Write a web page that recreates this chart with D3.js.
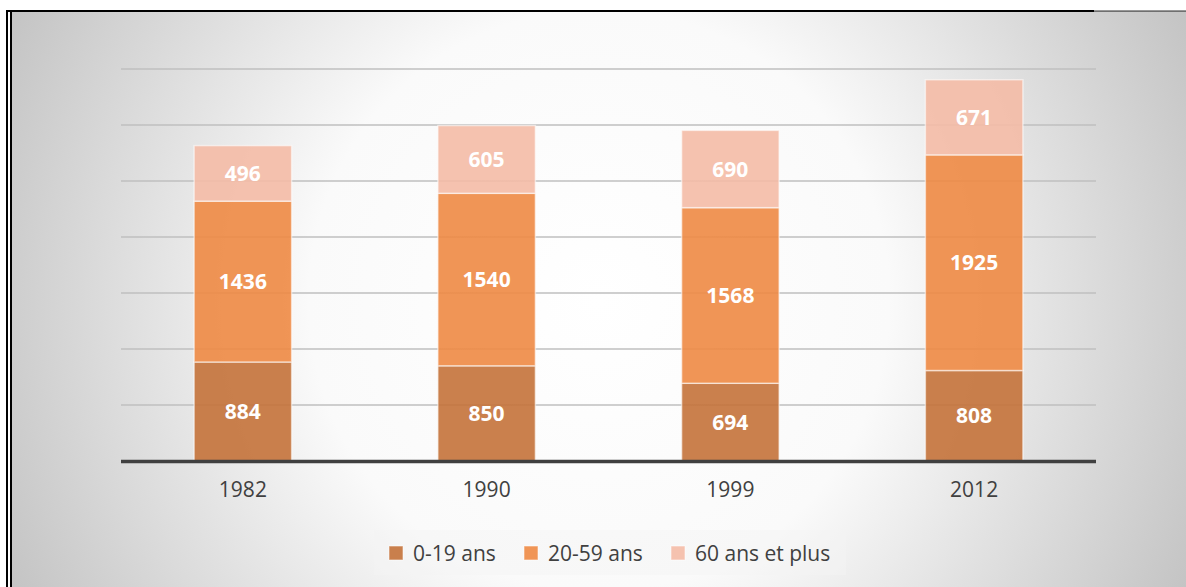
<!DOCTYPE html>
<html>
<head>
<meta charset="utf-8">
<script src="https://cdn.jsdelivr.net/npm/d3@7"></script>
<style>
  html, body { margin: 0; padding: 0; background: #ffffff; }
  svg { display: block; }
</style>
</head>
<body>
<svg id="chart" width="1186" height="587"></svg>
<script>
// Population by age group (thousands) for each census year
const years = ["1982", "1990", "1999", "2012"];
const ages0to19 = [884, 850, 694, 808];
const ages20to59 = [1436, 1540, 1568, 1925];
const ages60plus = [496, 605, 690, 671];
const seriesNames = ["0-19 ans", "20-59 ans", "60 ans et plus"];
const yTicks = [0, 500, 1000, 1500, 2000, 2500, 3000, 3500];

const W = 1186, H = 587;
const svg = d3.select("#chart");

// Frame background: radial grey gradient
const defs = svg.append("defs");
const grad = defs.append("radialGradient")
  .attr("id", "bg").attr("gradientUnits", "userSpaceOnUse")
  .attr("cx", 599).attr("cy", 300).attr("r", 660);
grad.append("stop").attr("offset", 0).attr("stop-color", "#ffffff");
grad.append("stop").attr("offset", 0.44).attr("stop-color", "#fafafa");
grad.append("stop").attr("offset", 1).attr("stop-color", "#c3c3c3");

svg.append("rect").attr("x", 12).attr("y", 12).attr("width", W - 12).attr("height", H - 12)
  .attr("fill", "url(#bg)");

// Border lines
svg.append("rect").attr("x", 6).attr("y", 10).attr("width", 2).attr("height", H - 10).attr("fill", "#000");
svg.append("rect").attr("x", 10).attr("y", 10).attr("width", 2).attr("height", H - 10).attr("fill", "#000");
svg.append("rect").attr("x", 6).attr("y", 10).attr("width", 1088).attr("height", 2).attr("fill", "#000");
svg.append("rect").attr("x", 1094).attr("y", 10.5).attr("width", W - 1094).attr("height", 1.2).attr("fill", "#333");

// Scales
const margin = { left: 121, right: 1096, top: 69, bottom: 461 };
const x = d3.scaleBand().domain(years).range([margin.left, margin.right]).paddingInner(0.6).paddingOuter(0.3);
const y = d3.scaleLinear().domain([0, 3500]).range([margin.bottom, margin.top]);

// Horizontal gridlines
svg.append("g").selectAll("line").data(yTicks.filter(d => d > 0)).join("line")
  .attr("x1", margin.left).attr("x2", margin.right)
  .attr("y1", d => y(d)).attr("y2", d => y(d))
  .attr("stroke", "#bfbfbf").attr("stroke-width", 1.5);

// Stacked bars
const table = years.map((yr, i) => ({
  year: yr,
  "0-19 ans": ages0to19[i],
  "20-59 ans": ages20to59[i],
  "60 ans et plus": ages60plus[i]
}));
const stack = d3.stack().keys(seriesNames)(table);
const colors = d3.scaleOrdinal().domain(seriesNames).range(["#c4723a", "#ee8944", "#f4bba6"]);

const layers = svg.append("g").selectAll("g").data(stack).join("g")
  .attr("fill", d => colors(d.key));

layers.selectAll("rect").data(d => d).join("rect")
  .attr("x", d => x(d.data.year))
  .attr("width", x.bandwidth())
  .attr("y", d => y(d[1]))
  .attr("height", d => y(d[0]) - y(d[1]))
  .attr("fill-opacity", 0.9)
  .attr("stroke", "rgba(255,255,255,0.55)")
  .attr("stroke-width", 1.5);

// Value labels in each segment
layers.selectAll("text").data(d => d).join("text")
  .attr("x", d => x(d.data.year) + x.bandwidth() / 2)
  .attr("y", d => (y(d[0]) + y(d[1])) / 2)
  .attr("dy", "0.36em")
  .attr("text-anchor", "middle")
  .attr("fill", "#ffffff")
  .attr("font-family", "'Open Sans', sans-serif")
  .attr("font-weight", 700)
  .attr("font-size", 21)
  .text(d => d[1] - d[0]);

// Category axis
const xAxis = svg.append("g").attr("transform", `translate(0,${margin.bottom})`)
  .call(d3.axisBottom(x).tickSize(0).tickPadding(21));
xAxis.select(".domain").remove();
xAxis.selectAll("text")
  .attr("fill", "#404040")
  .attr("font-family", "'Open Sans', sans-serif")
  .attr("font-size", 21);
svg.append("line")
  .attr("x1", margin.left).attr("x2", margin.right)
  .attr("y1", y(0) + 0.5).attr("y2", y(0) + 0.5)
  .attr("stroke", "#404040").attr("stroke-width", 3.5);

// Legend
svg.append("rect").attr("x", 374).attr("y", 530).attr("width", 472).attr("height", 45)
  .attr("fill", "#f3f3f3").attr("fill-opacity", 0.45);
const legendX = [389, 524, 671];
const legend = svg.append("g").selectAll("g").data(seriesNames).join("g")
  .attr("transform", (d, i) => `translate(${legendX[i]},546)`);
legend.append("rect").attr("width", 14).attr("height", 14)
  .attr("fill", d => colors(d)).attr("fill-opacity", 0.9)
  .attr("stroke", "rgba(255,255,255,0.55)").attr("stroke-width", 1);
legend.append("text")
  .attr("x", 24).attr("y", 7).attr("dy", "0.36em")
  .attr("fill", "#404040")
  .attr("font-family", "'Open Sans', sans-serif")
  .attr("font-size", 21)
  .text(d => d);
</script>
</body>
</html>
